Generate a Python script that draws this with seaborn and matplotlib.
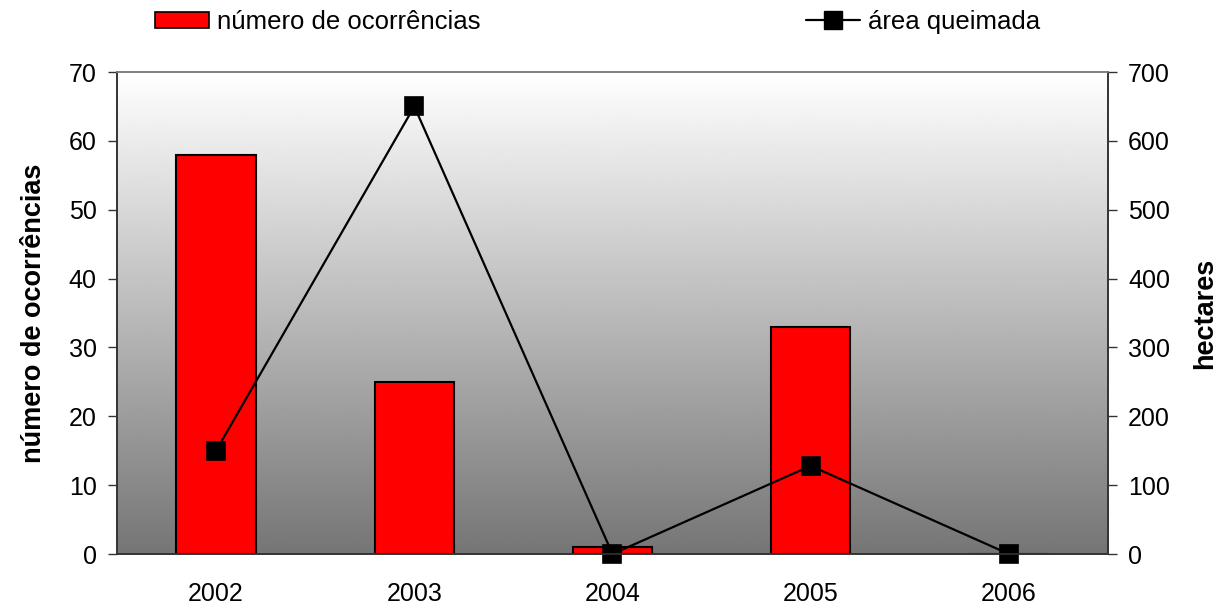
import numpy as np
import pandas as pd
import matplotlib
matplotlib.use("Agg")
import matplotlib.pyplot as plt
from matplotlib.patches import Patch
from matplotlib.lines import Line2D
import seaborn as sns

anos = ["2002", "2003", "2004", "2005", "2006"]
ocorrencias = [58, 25, 1, 33, 0]
area_ha = [150, 650, 0, 128, 0]

sns.set_theme(style="white")
plt.rcParams["font.family"] = ["Liberation Sans", "DejaVu Sans"]
plt.rcParams["text.color"] = "black"
plt.rcParams["axes.labelcolor"] = "black"
plt.rcParams["xtick.color"] = "black"
plt.rcParams["ytick.color"] = "black"

df = pd.DataFrame({"ano": anos, "ocorrencias": ocorrencias, "area": area_ha})

fig = plt.figure(figsize=(12.31, 6.08), dpi=100)
ax = fig.add_axes([117 / 1231, 1 - 554 / 608, (1108 - 117) / 1231, (554 - 72) / 608])

# vertical grey gradient behind the plot area
grad = np.linspace(1.0, 0.46, 256).reshape(-1, 1)
ax.imshow(grad, cmap="gray", vmin=0, vmax=1, aspect="auto",
          extent=[0, 1, 0, 1], transform=ax.transAxes, zorder=0)

sns.barplot(data=df, x="ano", y="ocorrencias", ax=ax, color="#ff0000",
            saturation=1, width=0.4, edgecolor="black", linewidth=1.5, zorder=2)

ax2 = ax.twinx()
sns.pointplot(data=df, x="ano", y="area", ax=ax2, color="black",
              markers="s", markersize=13, linewidth=1.6, errorbar=None)
for ln in ax2.lines:
    ln.set_clip_on(False)

ax.set_xlim(-0.5, 4.5)
ax.set_ylim(0, 70)
ax2.set_ylim(0, 700)
ax.set_yticks(range(0, 71, 10))
ax2.set_yticks(range(0, 701, 100))

ax.set_xlabel("")
ax.set_ylabel("número de ocorrências", fontsize=19.5, fontweight="bold", labelpad=16)
ax2.set_ylabel("hectares", fontsize=19.5, fontweight="bold", labelpad=16)

# category boundaries carry the tick marks, labels sit at the centres
ax.set_xticks(np.arange(-0.5, 5, 1), minor=True)
ax.tick_params(axis="x", which="major", length=0, labelsize=18, pad=20)
ax.tick_params(axis="x", which="minor", direction="inout", length=10, width=1, color="#333333")
ax.tick_params(axis="y", direction="out", length=6.5, width=1, color="#333333",
               labelsize=18, pad=8, left=True)
ax2.tick_params(axis="y", direction="out", length=6.5, width=1, color="#333333",
                labelsize=18, pad=8, right=True)

for a in (ax, ax2):
    for side in ("left", "right", "bottom"):
        a.spines[side].set_color("#333333")
        a.spines[side].set_linewidth(1.2)
    a.spines["top"].set_color("#808080")
    a.spines["top"].set_linewidth(1.2)

fig.legend(handles=[Patch(facecolor="#ff0000", edgecolor="black", linewidth=1.2,
                          label="número de ocorrências")],
           loc="center left", bbox_to_anchor=(155 / 1231, 1 - 22 / 608),
           frameon=False, fontsize=18.5, handlelength=2.1, handleheight=0.6,
           handletextpad=0.3, borderaxespad=0, borderpad=0)
fig.legend(handles=[Line2D([0], [0], color="black", lw=1.6, marker="s",
                           markersize=13, label="área queimada")],
           loc="center left", bbox_to_anchor=(806 / 1231, 1 - 22 / 608),
           frameon=False, fontsize=18.5, handlelength=2.1,
           handletextpad=0.3, borderaxespad=0, borderpad=0)

fig.savefig("out.png", dpi=100)
